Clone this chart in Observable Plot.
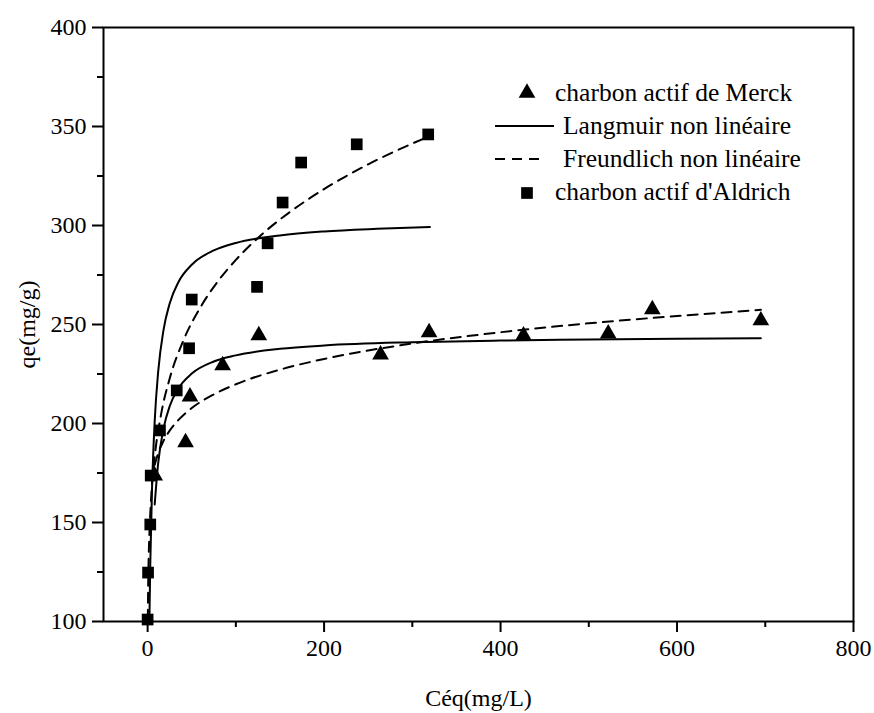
<!DOCTYPE html>
<html>
<head>
<meta charset="utf-8">
<script src="https://cdn.jsdelivr.net/npm/d3@7"></script>
<script src="https://cdn.jsdelivr.net/npm/@observablehq/plot@0.6"></script>
<style>
  html, body { margin: 0; padding: 0; background: #fff; }
  #wrap { position: relative; width: 874px; height: 713px; }
  #legend { position: absolute; left: 0; top: 0; pointer-events: none; }
  #wrap svg, #wrap svg text { font-family: "Liberation Serif", "DejaVu Serif", serif !important; }
</style>
</head>
<body>
<div id="wrap"></div>
<script>
// ---- Data ----
const merckC = [8, 43, 48, 85, 126, 264, 319, 426, 522, 572, 695];
const merckQ = [173.7, 190.4, 213.6, 229.3, 244.5, 234.8, 246, 244.4, 245.4, 257.6, 252];

const aldrichC = [0, 0.5, 3, 3.5, 14, 33, 47, 50, 124, 136, 153, 174, 237, 318];
const aldrichQ = [101, 124.7, 149, 173.7, 196.5, 216.7, 238, 262.6, 269, 291, 311.6, 331.8, 341, 346];

// fitted curves
const langAldrichC = [2, 3, 5, 8, 12, 18, 25, 35, 50, 75, 100, 150, 200, 260, 320];
const langAldrichQ = [100, 128.7, 167, 201, 226.3, 247.2, 260.6, 271.5, 280.2, 287.4, 291.2, 295, 297, 298.3, 299.2];

const langMerckC = [8, 12, 18, 25, 35, 50, 75, 100, 150, 200, 300, 400, 500, 600, 695];
const langMerckQ = [159.1, 180.1, 197.4, 208.7, 217.8, 225.2, 231.3, 234.4, 237.7, 239.4, 241.05, 241.9, 242.4, 242.8, 243.0];

const freuMerckC = [8, 12, 18, 25, 35, 50, 75, 100, 150, 200, 300, 400, 500, 600, 695];
const freuMerckQ = [179, 185, 191.2, 196.4, 201.8, 207.8, 214.7, 219.8, 227.2, 232.6, 240.4, 246.1, 250.6, 254.3, 257.4];

const freuAldrichC = [0.25, 0.5, 1, 2, 4, 8, 15, 25, 40, 60, 80, 100, 130, 160, 200, 250, 300, 320];
const freuAldrichQ = [100.8, 113.6, 128, 144, 162.4, 183, 204, 222.7, 241.4, 258.8, 272, 282.6, 295.7, 306.4, 318.4, 330.9, 341.4, 345.2];

const xMajor = [0, 200, 400, 600, 800];
const xMinor = [100, 300, 500, 700];
const yMajor = [100, 150, 200, 250, 300, 350, 400];
const yMinor = [125, 175, 225, 275, 325, 375];

const legendLabels = ["charbon actif de Merck", "Langmuir non linéaire", "Freundlich non linéaire", "charbon actif d'Aldrich"];

// ---- Tables ----
const zip = (xs, ys) => xs.map((x, i) => ({x, y: ys[i]}));
const merck = zip(merckC, merckQ);
const aldrich = zip(aldrichC, aldrichQ);
const langA = zip(langAldrichC, langAldrichQ);
const langM = zip(langMerckC, langMerckQ);
const freuA = zip(freuAldrichC, freuAldrichQ);
const freuM = zip(freuMerckC, freuMerckQ);

const font = "Liberation Serif, DejaVu Serif, serif";

const chart = Plot.plot({
  width: 874,
  height: 713,
  marginLeft: 103,
  marginRight: 21,
  marginTop: 27,
  marginBottom: 92,
  style: {fontFamily: font, fontSize: "24px", color: "#000", background: "#fff"},
  x: {domain: [-50, 800]},
  y: {domain: [100, 400]},
  marks: [
    Plot.line(langA, {x: "x", y: "y", stroke: "#000", strokeWidth: 2, curve: "monotone-x"}),
    Plot.line(langM, {x: "x", y: "y", stroke: "#000", strokeWidth: 2, curve: "monotone-x"}),
    Plot.line(freuA, {x: "x", y: "y", stroke: "#000", strokeWidth: 2, strokeDasharray: "10,7", curve: "monotone-x"}),
    Plot.line(freuM, {x: "x", y: "y", stroke: "#000", strokeWidth: 2, strokeDasharray: "10,7", curve: "monotone-x"}),
    Plot.dot(merck, {x: "x", y: "y", symbol: "triangle", r: 6.2, fill: "#000", stroke: "none"}),
    Plot.dot(aldrich, {x: "x", y: "y", symbol: "square", r: 6.6, fill: "#000", stroke: "none"}),
    Plot.axisX({ticks: xMajor, tickSize: 11, tickPadding: 6, strokeWidth: 2, tickFormat: d => String(d),
      label: "Céq(mg/L)", labelAnchor: "center", labelArrow: "none", labelOffset: 84}),
    Plot.axisX({ticks: xMinor, tickSize: 6, strokeWidth: 2, text: null, label: null}),
    Plot.axisY({ticks: yMajor, tickSize: 11, tickPadding: 6, strokeWidth: 2, tickFormat: d => String(d),
      label: "qe(mg/g)", labelAnchor: "center", labelArrow: "none", labelOffset: 86}),
    Plot.axisY({ticks: yMinor, tickSize: 6, strokeWidth: 2, text: null, label: null}),
    Plot.frame({stroke: "#000", strokeWidth: 2})
  ]
});

const wrap = document.getElementById("wrap");
wrap.appendChild(chart);

// ---- Legend overlay ----
const ns = "http://www.w3.org/2000/svg";
const leg = document.createElementNS(ns, "svg");
leg.setAttribute("id", "legend");
leg.setAttribute("width", 874);
leg.setAttribute("height", 713);
const baselines = [100.5, 134, 167, 200];
const textX = [555, 563, 563, 555];
legendLabels.forEach((lab, i) => {
  const t = document.createElementNS(ns, "text");
  t.setAttribute("x", textX[i]);
  t.setAttribute("y", baselines[i]);
  t.setAttribute("font-family", font);
  t.setAttribute("font-size", "25.5px");
  t.setAttribute("fill", "#000");
  t.textContent = lab;
  leg.appendChild(t);
});
const sym = (type, cx, cy) => {
  const p = document.createElementNS(ns, "path");
  const s = type === "triangle" ? d3.symbolTriangle : d3.symbolSquare;
  const r = type === "triangle" ? 6.2 : 6.6;
  p.setAttribute("d", d3.symbol(s, Math.PI * r * r)());
  p.setAttribute("transform", `translate(${cx},${cy})`);
  p.setAttribute("fill", "#000");
  leg.appendChild(p);
};
sym("triangle", 527, 93);
sym("square", 527, 193);
const ln = (y, dash) => {
  const l = document.createElementNS(ns, "line");
  l.setAttribute("x1", 495); l.setAttribute("x2", dash ? 541 : 554);
  l.setAttribute("y1", y); l.setAttribute("y2", y);
  l.setAttribute("stroke", "#000"); l.setAttribute("stroke-width", 2);
  if (dash) l.setAttribute("stroke-dasharray", "10,7");
  leg.appendChild(l);
};
ln(126, false);
ln(159, true);
wrap.appendChild(leg);
</script>
</body>
</html>
